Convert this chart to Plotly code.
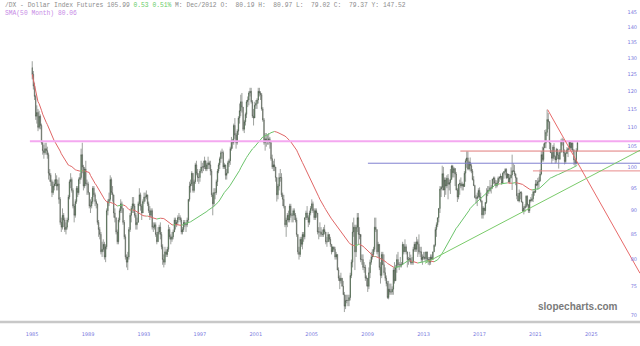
import plotly.graph_objects as go
import pandas as pd

# ---------------- data (monthly, Nov 1985 .. Nov 2024) ----------------
first_open = 127.0
closes = [
    125.0, 121.5,
    118.5, 113.0, 114.0, 110.0, 113.0, 110.5, 106.0, 104.0, 103.5, 104.5, 104.0, 103.0,
    98.5, 98.0, 96.5, 94.0, 95.5, 96.0, 97.0, 95.5, 96.0, 92.5, 87.5, 86.5,
    89.0, 88.0, 86.0, 86.5, 88.0, 93.0, 96.5, 97.0, 94.5, 91.0, 89.0, 92.0,
    95.0, 94.0, 97.0, 97.5, 103.0, 100.0, 95.5, 99.5, 96.0, 96.0, 94.0, 91.0,
    91.0, 92.0, 95.0, 93.5, 92.0, 91.5, 87.5, 86.0, 85.0, 81.5, 82.0, 83.0,
    80.5, 82.5, 90.0, 92.0, 92.5, 97.0, 94.0, 93.5, 89.5, 88.5, 85.5, 83.5,
    88.0, 90.0, 91.5, 90.5, 87.5, 84.5, 80.5, 79.5, 80.5, 86.0, 89.0, 90.5,
    91.5, 91.0, 89.0, 87.0, 87.5, 91.5, 93.5, 91.0, 89.5, 92.0, 93.0, 93.0,
    93.5, 91.5, 90.0, 89.0, 90.0, 86.5, 86.5, 87.0, 85.0, 83.5, 85.5, 86.5,
    85.0, 82.5, 80.0, 79.5, 81.5, 81.0, 82.0, 86.0, 84.5, 84.0, 84.5, 85.5,
    88.0, 87.0, 87.5, 88.5, 88.5, 88.0, 85.5, 86.0, 87.5, 87.0, 87.0, 88.0,
    92.5, 95.5, 96.0, 98.5, 94.5, 96.5, 100.5, 98.5, 97.5, 97.5, 99.0, 100.0,
    100.0, 100.0, 101.5, 99.5, 100.5, 101.0, 100.5, 99.0, 93.5, 91.5, 94.0, 94.0,
    96.5, 99.0, 100.5, 102.0, 103.5, 103.5, 100.0, 100.5, 98.0, 98.5, 101.0, 101.5,
    104.5, 106.5, 106.0, 110.5, 108.0, 106.0, 109.0, 112.5, 114.5, 117.0, 115.5, 109.5,
    111.5, 113.5, 117.0, 117.5, 119.5, 120.0, 117.0, 113.0, 112.5, 116.0, 116.5, 117.5,
    120.0, 119.5, 119.0, 115.0, 112.0, 106.0, 107.0, 106.5, 106.5, 107.0, 106.0, 102.0,
    100.0, 100.5, 100.0, 97.5, 93.5, 95.5, 97.5, 97.5, 93.5, 92.5, 91.0, 87.0,
    88.0, 89.0, 88.0, 91.0, 89.0, 89.0, 90.0, 89.0, 88.0, 85.0, 81.5, 81.0,
    84.0, 83.0, 85.0, 84.5, 88.5, 89.5, 88.5, 87.5, 89.5, 90.5, 91.5, 90.0,
    88.5, 90.0, 89.5, 85.5, 85.5, 85.5, 85.0, 85.0, 86.0, 85.5, 83.5, 83.5,
    85.0, 84.0, 83.0, 81.5, 82.5, 82.0, 80.5, 81.0, 78.0, 76.5, 76.0, 76.5,
    75.0, 73.5, 71.5, 72.5, 72.5, 72.5, 73.0, 77.0, 79.5, 85.5, 86.5, 81.5,
    86.5, 88.5, 85.0, 85.0, 80.0, 80.0, 78.5, 78.5, 76.5, 76.5, 75.0, 77.5,
    79.5, 80.5, 81.0, 82.0, 86.5, 86.0, 81.5, 83.0, 78.5, 77.0, 81.0, 79.0,
    77.5, 76.5, 75.5, 73.0, 74.5, 74.0, 74.0, 74.5, 78.0, 76.0, 78.5, 80.0,
    79.0, 79.0, 79.0, 79.0, 83.0, 81.5, 82.5, 81.5, 80.0, 80.0, 80.19, 79.37,
    79.5, 82.0, 83.0, 82.0, 83.5, 83.0, 81.5, 81.5, 80.0, 80.5, 80.5, 80.2,
    81.5, 80.0, 80.0, 79.5, 80.5, 80.0, 81.5, 82.8, 86.0, 87.0, 88.5, 90.5,
    94.8, 95.2, 98.4, 94.6, 96.9, 95.5, 97.3, 95.9, 96.3, 97.0, 100.2, 98.6,
    99.6, 98.3, 94.6, 93.0, 95.9, 96.1, 95.5, 96.0, 95.4, 98.5, 101.5, 102.2,
    99.5, 101.1, 100.3, 99.0, 97.0, 95.6, 92.9, 92.7, 93.1, 94.5, 93.0, 92.1,
    89.1, 90.6, 90.0, 91.8, 94.0, 94.5, 94.5, 95.1, 95.1, 97.1, 97.3, 96.2,
    95.6, 96.2, 97.3, 97.5, 97.8, 96.1, 98.5, 98.9, 99.4, 97.4, 98.3, 96.4,
    97.4, 98.1, 99.1, 99.0, 98.3, 97.4, 93.3, 92.1, 93.9, 94.0, 91.9, 89.9,
    90.6, 90.9, 93.2, 91.3, 90.0, 92.4, 92.2, 92.6, 94.2, 94.1, 96.0, 95.7,
    96.5, 96.7, 98.3, 103.0, 101.8, 104.7, 105.9, 108.7, 112.1, 111.5, 105.9, 103.5,
    102.1, 104.9, 102.5, 101.7, 104.3, 102.9, 101.9, 103.6, 106.2, 106.7, 103.5, 101.3,
    103.3, 104.2, 104.5, 106.2, 104.7, 105.9, 104.1, 101.7, 100.8, 104.0, 105.99,
]
highs = [
    129.0, 126.0,
    122.5, 119.0, 116.0, 115.0, 114.5, 113.5, 111.0, 106.5, 105.5, 106.0, 106.0, 105.0,
    103.5, 99.5, 98.5, 97.0, 96.5, 97.0, 98.5, 98.0, 97.0, 97.5, 93.0, 88.5,
    90.5, 89.5, 88.5, 87.5, 88.5, 93.5, 97.0, 98.5, 97.5, 95.0, 91.5, 92.5,
    95.5, 95.5, 97.5, 98.5, 104.5, 106.0, 100.5, 100.0, 101.5, 97.0, 96.5, 94.0,
    92.5, 93.0, 95.5, 95.5, 94.0, 92.5, 91.5, 88.0, 86.5, 85.5, 83.5, 84.0,
    83.5, 83.0, 90.5, 92.5, 94.0, 98.0, 97.5, 95.5, 93.5, 90.5, 88.5, 86.0,
    88.5, 90.5, 92.5, 92.0, 90.5, 88.0, 85.0, 81.0, 81.5, 86.5, 89.5, 91.0,
    93.0, 93.0, 91.5, 89.5, 88.5, 92.0, 95.0, 94.0, 91.5, 92.5, 94.0, 94.0,
    94.5, 93.5, 92.0, 91.0, 90.5, 90.5, 87.5, 87.5, 87.5, 85.5, 86.5, 87.0,
    87.5, 85.5, 83.0, 81.0, 82.5, 82.0, 82.5, 87.0, 86.5, 85.0, 85.5, 86.0,
    88.5, 88.5, 88.0, 89.0, 89.5, 89.0, 88.5, 86.5, 88.0, 88.0, 87.5, 88.5,
    92.5, 96.5, 97.0, 99.0, 98.5, 97.0, 101.0, 101.5, 99.5, 98.5, 99.5, 101.5,
    101.0, 101.5, 102.5, 101.5, 101.0, 102.5, 101.5, 101.5, 99.5, 94.0, 95.0, 95.0,
    97.0, 99.5, 101.0, 102.5, 104.0, 104.5, 104.0, 101.0, 100.5, 99.5, 101.5, 102.0,
    105.0, 107.5, 107.0, 111.0, 112.5, 108.5, 109.5, 113.0, 116.5, 119.0, 119.5, 115.5,
    112.0, 114.0, 117.5, 118.5, 120.0, 121.0, 121.0, 117.5, 115.0, 117.0, 117.5, 118.0,
    121.0, 121.0, 120.0, 119.5, 115.5, 112.5, 108.5, 108.5, 108.0, 108.5, 107.5, 106.5,
    103.0, 101.5, 102.0, 100.0, 97.5, 96.0, 98.5, 99.5, 98.5, 94.0, 93.5, 91.0,
    88.5, 89.5, 90.0, 91.5, 91.5, 89.5, 90.5, 90.5, 89.5, 88.5, 85.0, 82.5,
    84.5, 84.5, 85.5, 85.5, 88.5, 90.0, 91.0, 89.0, 90.0, 91.0, 92.5, 92.0,
    90.5, 90.5, 90.5, 89.5, 86.5, 87.5, 86.5, 86.0, 86.5, 87.0, 85.5, 84.5,
    85.5, 85.0, 84.5, 83.0, 82.5, 82.5, 82.5, 81.5, 81.0, 78.5, 77.0, 77.5,
    76.5, 76.0, 74.0, 73.5, 73.5, 73.5, 73.5, 77.5, 80.0, 87.5, 88.5, 87.0,
    87.0, 89.5, 89.5, 86.5, 84.5, 81.0, 81.0, 79.5, 79.0, 77.0, 76.5, 78.5,
    80.0, 81.5, 82.0, 82.5, 88.5, 88.5, 86.0, 83.5, 83.0, 79.5, 81.5, 81.5,
    81.0, 78.5, 77.0, 76.0, 76.0, 75.5, 75.5, 75.0, 78.5, 79.5, 79.0, 81.0,
    81.5, 79.5, 80.5, 79.5, 83.5, 83.0, 84.0, 83.0, 81.5, 80.5, 81.5, 80.97,
    80.5, 82.5, 83.5, 83.5, 84.5, 84.0, 85.0, 82.5, 82.5, 81.0, 81.5, 81.5,
    81.5, 81.5, 80.5, 80.5, 81.0, 81.0, 81.5, 83.0, 86.5, 87.5, 88.5, 90.5,
    95.5, 95.5, 100.3, 100.0, 97.5, 97.5, 98.0, 98.3, 97.0, 99.5, 100.5, 100.5,
    100.0, 99.5, 98.8, 95.0, 96.0, 97.0, 97.5, 96.5, 96.0, 99.0, 102.0, 103.8,
    103.8, 101.5, 102.3, 100.8, 99.5, 97.8, 95.8, 93.5, 94.0, 95.0, 95.2, 94.0,
    92.3, 91.0, 90.6, 91.9, 95.0, 95.5, 95.5, 96.9, 95.7, 97.2, 97.7, 97.7,
    96.9, 96.8, 97.7, 97.8, 98.4, 97.8, 98.7, 99.0, 99.7, 99.7, 98.5, 98.2,
    98.2, 99.9, 103.0, 100.9, 100.5, 98.5, 97.5, 93.9, 94.7, 94.3, 94.3, 92.0,
    91.0, 91.4, 93.4, 93.4, 91.4, 92.4, 93.0, 93.7, 94.5, 94.5, 96.9, 96.9,
    97.4, 97.7, 99.4, 103.9, 105.0, 105.8, 109.3, 109.5, 114.8, 113.9, 111.6, 106.0,
    104.1, 105.4, 105.9, 102.8, 104.7, 104.5, 103.6, 104.4, 107.0, 107.3, 106.9, 104.3,
    103.8, 104.9, 104.7, 106.5, 106.4, 106.1, 106.1, 104.4, 101.9, 104.6, 106.3,
]
lows = [
    123.5, 120.5,
    117.5, 112.0, 111.0, 109.0, 109.5, 109.5, 105.5, 103.0, 102.0, 103.0, 103.0, 102.0,
    97.0, 96.5, 95.5, 93.0, 93.5, 94.5, 95.5, 94.5, 94.5, 91.5, 87.0, 85.5,
    86.0, 86.5, 85.5, 85.0, 86.0, 87.5, 92.5, 95.0, 94.0, 90.5, 87.5, 88.5,
    91.5, 93.0, 93.5, 96.0, 97.0, 98.5, 94.5, 95.0, 95.5, 93.5, 93.5, 90.5,
    89.5, 90.5, 91.5, 93.0, 91.0, 90.5, 87.0, 84.5, 84.0, 81.0, 80.5, 81.5,
    80.0, 79.5, 82.0, 89.0, 91.0, 92.0, 93.5, 92.0, 88.5, 87.5, 85.0, 83.0,
    83.0, 87.5, 89.5, 89.5, 87.0, 84.0, 80.0, 78.5, 78.0, 80.0, 85.5, 87.5,
    89.5, 89.5, 88.5, 86.0, 86.0, 87.5, 91.0, 90.0, 88.0, 89.5, 91.5, 92.0,
    92.5, 91.0, 89.5, 88.0, 88.5, 86.0, 85.5, 86.0, 84.5, 83.0, 83.5, 85.0,
    84.0, 82.0, 79.0, 78.5, 79.0, 80.5, 80.5, 81.5, 84.0, 83.0, 83.5, 84.0,
    85.5, 86.0, 86.5, 87.0, 88.0, 87.5, 85.0, 85.0, 85.5, 86.5, 85.5, 86.5,
    87.5, 92.0, 94.0, 95.5, 94.0, 94.0, 96.0, 98.0, 96.5, 96.0, 96.5, 98.5,
    98.5, 99.0, 99.5, 99.0, 99.0, 99.5, 99.5, 98.0, 93.0, 89.0, 91.0, 92.5,
    93.5, 95.5, 98.5, 99.5, 101.0, 102.0, 99.5, 99.5, 97.0, 97.0, 98.5, 100.0,
    100.5, 104.0, 104.5, 105.5, 107.0, 104.5, 105.5, 108.0, 111.0, 113.0, 114.0, 109.0,
    108.5, 110.5, 112.5, 115.5, 116.0, 118.5, 116.5, 112.5, 110.5, 112.5, 115.0, 115.0,
    116.5, 118.5, 117.5, 114.5, 111.5, 105.5, 104.0, 105.0, 105.5, 105.5, 104.5, 101.5,
    99.5, 99.0, 99.0, 96.5, 92.0, 92.5, 94.5, 96.5, 93.0, 91.0, 90.5, 86.5,
    84.5, 86.5, 87.5, 87.5, 88.5, 87.5, 87.5, 88.0, 87.5, 84.5, 81.0, 80.0,
    80.5, 82.5, 82.0, 83.5, 84.0, 88.0, 88.0, 86.5, 87.0, 89.0, 90.0, 89.5,
    88.0, 88.0, 88.5, 85.0, 84.0, 84.5, 84.5, 84.5, 84.5, 85.0, 83.0, 82.5,
    83.5, 83.5, 82.5, 81.0, 81.5, 81.5, 80.0, 80.0, 78.0, 76.0, 74.5, 75.5,
    75.0, 73.5, 70.5, 71.0, 72.0, 71.5, 71.5, 72.5, 76.5, 78.5, 84.5, 78.0,
    80.5, 85.5, 83.0, 84.0, 79.5, 79.0, 78.0, 77.5, 76.0, 75.0, 74.0, 74.5,
    76.5, 79.0, 80.0, 80.5, 81.5, 85.5, 81.0, 80.5, 78.0, 75.5, 76.5, 79.0,
    77.0, 76.0, 75.0, 72.8, 72.7, 73.5, 73.5, 73.5, 73.5, 75.5, 76.0, 77.5,
    78.5, 78.0, 78.5, 78.5, 79.0, 81.0, 81.5, 81.0, 78.5, 79.0, 79.5, 79.02,
    79.0, 79.0, 81.5, 81.5, 81.5, 80.5, 81.0, 80.5, 79.5, 79.0, 80.0, 79.8,
    79.5, 79.5, 79.0, 78.9, 79.0, 80.0, 80.0, 81.5, 82.5, 84.5, 86.5, 87.5,
    89.5, 93.0, 94.5, 94.5, 93.0, 93.5, 95.0, 92.5, 94.5, 93.7, 97.0, 97.5,
    97.5, 95.5, 94.5, 91.9, 92.5, 93.5, 95.0, 94.5, 94.5, 95.5, 96.5, 99.8,
    99.2, 99.2, 98.9, 98.5, 96.8, 95.5, 92.7, 91.6, 91.0, 92.7, 92.4, 91.8,
    88.3, 88.3, 89.0, 89.2, 91.5, 93.2, 93.7, 94.2, 93.8, 94.8, 96.0, 95.7,
    95.0, 95.2, 95.7, 96.5, 97.0, 95.8, 96.0, 97.2, 98.0, 97.1, 97.3, 96.4,
    96.0, 97.3, 94.6, 98.8, 97.8, 95.7, 92.5, 92.1, 91.8, 92.5, 91.8, 89.7,
    89.2, 89.7, 90.6, 90.9, 89.5, 89.5, 91.8, 92.0, 91.9, 93.3, 93.9, 95.5,
    94.6, 95.1, 96.5, 98.0, 101.3, 101.3, 104.7, 104.6, 107.7, 109.5, 104.4, 103.4,
    100.8, 101.5, 101.9, 100.8, 101.0, 101.9, 99.6, 101.7, 103.6, 105.3, 102.5, 100.6,
    100.8, 103.4, 102.4, 104.1, 104.3, 104.1, 103.6, 100.5, 100.2, 100.6, 103.7,
]
start_month = "1985-11-01"

# horizontal level lines: (value, start date)
level_values = [106.4, 103.9, 100.9, 99.05]
level_starts = ["1985-09-15", "2016-07-01", "2009-11-20", "2021-09-10"]
level_colors = ["#f4a8f0", "#e07a7a", "#8080d0", "#e88a8a"]
level_widths = [2, 1, 1, 1]

# diagonal trend lines: (date, value) pairs
down_line_x = ["2022-09-28", "2029-05-08"]
down_line_y = [114.8, 77.4]
up_line_x = ["2013-12-20", "2029-05-08"]
up_line_y = [79.3, 104.1]

tick_years = ["1985", "1989", "1993", "1997", "2001", "2005", "2009", "2013", "2017", "2021", "2025"]
y_ticks = [70, 75, 80, 85, 90, 95, 100, 105, 110, 115, 120, 125, 130, 135, 140, 145]

# ---------------- derived ----------------
dates = pd.date_range(start_month, periods=len(closes), freq="MS") + pd.Timedelta(days=14)
opens = [first_open] + closes[:-1]
ma = pd.Series(closes).rolling(50, min_periods=1).mean().tolist()

x_end = "2029-05-08"
x_start = "1983-07-27"

fig = go.Figure()

# SMA colored by direction
segs = []
cur = [0]
cur_up = None
for i in range(1, len(ma)):
    up = ma[i] >= ma[i - 1]
    if cur_up is None:
        cur_up = up
    if up != cur_up:
        segs.append((cur, cur_up))
        cur = [i - 1]
        cur_up = up
    cur.append(i)
segs.append((cur, cur_up))
for idx, up in segs:
    fig.add_trace(go.Scatter(
        x=[dates[i] for i in idx], y=[ma[i] for i in idx], mode="lines",
        line=dict(color="#6cc46c" if up else "#e06666", width=1), hoverinfo="skip",
        showlegend=False))

for v, s, c, w in zip(level_values, level_starts, level_colors, level_widths):
    fig.add_trace(go.Scatter(x=[s, x_end], y=[v, v], mode="lines",
                             line=dict(color=c, width=w), showlegend=False, hoverinfo="skip"))

fig.add_trace(go.Scatter(x=down_line_x, y=down_line_y, mode="lines",
                         line=dict(color="#e86a6a", width=1), showlegend=False))
fig.add_trace(go.Scatter(x=up_line_x, y=up_line_y, mode="lines",
                         line=dict(color="#7acb6a", width=1), showlegend=False))

fig.add_trace(go.Candlestick(
    x=dates, open=opens, high=highs, low=lows, close=closes,
    increasing=dict(line=dict(color="#3c443c", width=0.5), fillcolor="#4f9f4f"),
    decreasing=dict(line=dict(color="#3c443c", width=0.5), fillcolor="#a9b5a0"),
    whiskerwidth=0, showlegend=False))

fig.update_layout(
    width=640, height=346,
    margin=dict(l=0, r=0, t=0, b=24),
    paper_bgcolor="white", plot_bgcolor="white",
    showlegend=False,
    xaxis=dict(
        type="date", range=[x_start, x_end], rangeslider=dict(visible=False),
        tickvals=[f"{y}-11-12" for y in tick_years], ticktext=tick_years,
        tickfont=dict(family="DejaVu Sans", size=5, color="#7a7ae0"),
        showgrid=False, zeroline=False, showline=False, ticks="", ticklabelstandoff=8,
    ),
    yaxis=dict(
        type="log", range=[1.83778, 2.17464], side="right",
        tickvals=y_ticks, ticktext=[str(v) for v in y_ticks],
        ticklabelposition="inside",
        tickfont=dict(family="DejaVu Sans", size=5, color="#7a7ae0"),
        showgrid=False, zeroline=False, showline=False, ticks="",
    ),
    shapes=[dict(type="line", xref="paper", yref="paper", x0=0, x1=1, y0=0, y1=0,
                 line=dict(color="#c8c8c8", width=2.5))],
    annotations=[
        dict(xref="paper", yref="paper", x=0.005, y=1.0, xanchor="left", yanchor="top",
             showarrow=False, align="left",
             text=("/DX - Dollar Index Futures 105.99 <span style='color:#66cc66'>0.53 0.51%</span>"
                   " M: Dec/2012 O:  80.19 H:  80.97 L:  79.02 C:  79.37 Y: 147.52"),
             font=dict(family="Liberation Mono", size=6.3, color="#8c8c8c")),
        dict(xref="paper", yref="paper", x=0.005, y=0.975, xanchor="left", yanchor="top",
             showarrow=False, text="SMA(50 Month) 80.06",
             font=dict(family="Liberation Mono", size=6.3, color="#c78be6")),
        dict(xref="paper", yref="paper", x=0.903, y=0.047, xanchor="center", yanchor="middle",
             showarrow=False, text="<b>slopecharts.com</b>",
             font=dict(family="Liberation Sans", size=10, color="#7a7a7a")),
    ],
)

fig.write_html("out.html")
